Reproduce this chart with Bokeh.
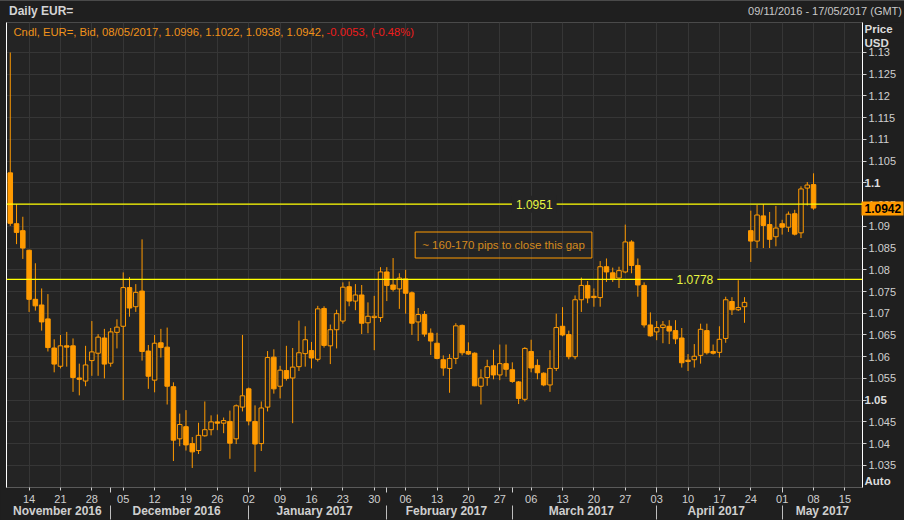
import json
import pandas as pd
from bokeh.plotting import figure
from bokeh.layouts import column
from bokeh.models import (ColumnDataSource, Range1d, LinearAxis, FixedTicker,
                          CustomJSTickFormatter, Span, Label, Div)
from bokeh.embed import file_html
from bokeh.resources import INLINE

# ---------------- data ----------------
first_day = "2016-11-09"
open_ = [1.1023, 1.0906, 1.0890, 1.0845, 1.0732, 1.0719, 1.0687, 1.0620, 1.0578, 1.0625,
         1.0625, 1.0551, 1.0544, 1.0591, 1.0608, 1.0643,
         1.0585, 1.0656, 1.0670, 1.0759, 1.0715, 1.0751, 1.0613, 1.0546, 1.0632, 1.0622,
         1.0531, 1.0411, 1.0439, 1.0400, 1.0384, 1.0418, 1.0432, 1.0450, 1.0447, 1.0451,
         1.0411, 1.0484,
         1.0526, 1.0451, 1.0400, 1.0484, 1.0599, 1.0532, 1.0568, 1.0551, 1.0577, 1.0607,
         1.0614, 1.0594, 1.0711, 1.0625, 1.0662, 1.0682, 1.0761, 1.0728, 1.0742, 1.0678,
         1.0690, 1.0690,
         1.0795, 1.0765, 1.0756, 1.0779, 1.0747, 1.0680, 1.0697, 1.0654, 1.0631, 1.0593,
         1.0573, 1.0596, 1.0672, 1.0612, 1.0608, 1.0532, 1.0552, 1.0579, 1.0558, 1.0584,
         1.0570, 1.0542, 1.0502, 1.0612, 1.0580, 1.0562, 1.0535, 1.0573, 1.0670, 1.0651,
         1.0600, 1.0731, 1.0764, 1.0739, 1.0736, 1.0807, 1.0793, 1.0781, 1.0795, 1.0864,
         1.0810, 1.0764, 1.0673,
         1.0657, 1.0667, 1.0670, 1.0660, 1.0643, 1.0592, 1.0593, 1.0603, 1.0660, 1.0612,
         1.0610, 1.0642, 1.0727, 1.0708, 1.0715, 1.0890, 1.0866, 1.0924, 1.0904, 1.0876,
         1.0906, 1.0898, 1.0929, 1.0885, 1.0988, 1.0996]
high = [1.1300, 1.0951, 1.0922, 1.0846, 1.0815, 1.0757, 1.0744, 1.0640, 1.0650, 1.0657,
        1.0642, 1.0584, 1.0625, 1.0682, 1.0652, 1.0664,
        1.0666, 1.0686, 1.0794, 1.0783, 1.0767, 1.0870, 1.0627, 1.0650, 1.0664, 1.0667,
        1.0541, 1.0469, 1.0477, 1.0415, 1.0448, 1.0497, 1.0465, 1.0467, 1.0460, 1.0476,
        1.0490, 1.0650,
        1.0529, 1.0488, 1.0497, 1.0613, 1.0617, 1.0579, 1.0625, 1.0620, 1.0683, 1.0670,
        1.0634, 1.0717, 1.0716, 1.0674, 1.0708, 1.0771, 1.0773, 1.0767, 1.0765, 1.0725,
        1.0740, 1.0806,
        1.0806, 1.0827, 1.0792, 1.0800, 1.0750, 1.0712, 1.0705, 1.0665, 1.0655, 1.0603,
        1.0606, 1.0677, 1.0674, 1.0633, 1.0610, 1.0571, 1.0593, 1.0616, 1.0628, 1.0628,
        1.0587, 1.0544, 1.0622, 1.0639, 1.0594, 1.0564, 1.0615, 1.0699, 1.0714, 1.0660,
        1.0741, 1.0782, 1.0774, 1.0757, 1.0820, 1.0826, 1.0805, 1.0807, 1.0904, 1.0868,
        1.0826, 1.0771, 1.0702,
        1.0682, 1.0682, 1.0684, 1.0684, 1.0666, 1.0606, 1.0629, 1.0676, 1.0676, 1.0628,
        1.0670, 1.0738, 1.0737, 1.0776, 1.0737, 1.0936, 1.0949, 1.0951, 1.0933, 1.0947,
        1.0915, 1.0934, 1.0938, 1.0992, 1.1002, 1.1022]
low = [1.0901, 1.0859, 1.0825, 1.0703, 1.0706, 1.0660, 1.0612, 1.0564, 1.0573, 1.0577,
       1.0519, 1.0511, 1.0532, 1.0556, 1.0556, 1.0550,
       1.0577, 1.0619, 1.0500, 1.0692, 1.0703, 1.0591, 1.0526, 1.0518, 1.0598, 1.0490,
       1.0360, 1.0394, 1.0384, 1.0344, 1.0376, 1.0416, 1.0419, 1.0431, 1.0424, 1.0365,
       1.0399, 1.0474,
       1.0442, 1.0335, 1.0383, 1.0474, 1.0515, 1.0504, 1.0545, 1.0447, 1.0567, 1.0577,
       1.0573, 1.0589, 1.0621, 1.0583, 1.0619, 1.0676, 1.0716, 1.0707, 1.0652, 1.0654,
       1.0615, 1.0680,
       1.0728, 1.0750, 1.0710, 1.0699, 1.0650, 1.0636, 1.0646, 1.0604, 1.0594, 1.0556,
       1.0517, 1.0583, 1.0603, 1.0604, 1.0532, 1.0490, 1.0533, 1.0548, 1.0546, 1.0554,
       1.0540, 1.0491, 1.0497, 1.0564, 1.0548, 1.0532, 1.0519, 1.0567, 1.0647, 1.0594,
       1.0594, 1.0703, 1.0723, 1.0715, 1.0715, 1.0772, 1.0772, 1.0758, 1.0792, 1.0792,
       1.0738, 1.0667, 1.0646,
       1.0638, 1.0631, 1.0629, 1.0629, 1.0575, 1.0567, 1.0575, 1.0584, 1.0605, 1.0605,
       1.0598, 1.0632, 1.0696, 1.0705, 1.0678, 1.0818, 1.0850, 1.0850, 1.0850, 1.0854,
       1.0881, 1.0887, 1.0879, 1.0873, 1.0948, 1.0938]
close = [1.0907, 1.0886, 1.0850, 1.0732, 1.0717, 1.0680, 1.0621, 1.0583, 1.0625, 1.0622,
         1.0552, 1.0548, 1.0581, 1.0611, 1.0645, 1.0583,
         1.0657, 1.0668, 1.0759, 1.0712, 1.0748, 1.0612, 1.0555, 1.0631, 1.0621, 1.0532,
         1.0408, 1.0444, 1.0397, 1.0381, 1.0419, 1.0432, 1.0450, 1.0447, 1.0453, 1.0401,
         1.0487, 1.0510,
         1.0452, 1.0399, 1.0482, 1.0598, 1.0526, 1.0569, 1.0550, 1.0576, 1.0609, 1.0639,
         1.0597, 1.0710, 1.0626, 1.0662, 1.0699, 1.0760, 1.0728, 1.0742, 1.0677, 1.0693,
         1.0693, 1.0795,
         1.0764, 1.0755, 1.0781, 1.0746, 1.0677, 1.0697, 1.0652, 1.0636, 1.0596, 1.0574,
         1.0596, 1.0671, 1.0609, 1.0606, 1.0533, 1.0551, 1.0577, 1.0558, 1.0584, 1.0571,
         1.0543, 1.0504, 1.0619, 1.0574, 1.0563, 1.0535, 1.0573, 1.0667, 1.0650, 1.0600,
         1.0731, 1.0764, 1.0735, 1.0736, 1.0807, 1.0795, 1.0779, 1.0798, 1.0864, 1.0810,
         1.0765, 1.0673, 1.0648,
         1.0667, 1.0673, 1.0659, 1.0641, 1.0586, 1.0589, 1.0601, 1.0663, 1.0609, 1.0608,
         1.0640, 1.0731, 1.0708, 1.0713, 1.0725, 1.0866, 1.0926, 1.0902, 1.0870, 1.0896,
         1.0898, 1.0928, 1.0882, 1.0986, 1.0995, 1.0942]
level_upper = 1.0951
level_lower = 1.0778
note_text = "~ 160-170 pips to close this gap"
price_ticks = [1.035, 1.04, 1.045, 1.05, 1.055, 1.06, 1.065, 1.07, 1.075, 1.08,
               1.085, 1.09, 1.095, 1.1, 1.105, 1.11, 1.115, 1.12, 1.125, 1.13]
bold_ticks = [1.05, 1.1]
range_end_day = "2017-05-17"

# ---------------- styling ----------------
FONT = "Liberation Sans"
ORANGE = "#ff9a00"
BG = "#242424"
BORDER = "#1f1f1f"
GRID = "#363636"
TXT = "#cfcfcf"
YELLOW = "#ffff00"
W = 904
A_WIDTH = 38      # measured width of the main price axis panel

n = len(close)
dates = pd.bdate_range(first_day, periods=n)
idx = list(range(n))
x_start, x_end = -0.6, 135.8
y_start, y_end = 1.0299, 1.1369

p = figure(width=W, height=498, x_range=Range1d(x_start, x_end),
           y_range=Range1d(y_start, y_end), output_backend="svg",
           toolbar_location=None, y_axis_location="right",
           min_border_left=6, min_border_right=42, min_border_top=0,
           min_border_bottom=0)
p.background_fill_color = BG
p.border_fill_color = BORDER
p.outline_line_color = "#4a4a4a"

# ---------------- ticks ----------------
all_days = pd.bdate_range(first_day, range_end_day)
mondays = [i for i, d in enumerate(all_days) if d.weekday() == 0 and i <= x_end]
day_labels = [all_days[i].strftime("%d") for i in mondays]
month_starts = [i for i in range(1, n) if dates[i].month != dates[i - 1].month]
seg_starts = [0] + month_starts
seg_ends = [s - 1 for s in month_starts] + [x_end]
month_centers = [(a + b) / 2 for a, b in zip(seg_starts, seg_ends)]
month_names = [dates[s].strftime("%B %Y") for s in seg_starts]


def list_fmt(ticks, labels):
    return CustomJSTickFormatter(code=(
        f"const t = {json.dumps(ticks)}; const l = {json.dumps(labels)};"
        "for (let i = 0; i < t.length; i++) { if (Math.abs(t[i] - tick) < 1e-7) return l[i]; }"
        "return '';"))


price_fmt = CustomJSTickFormatter(code=(
    f"const b = {json.dumps(bold_ticks)};"
    "for (const v of b) { if (Math.abs(v - tick) < 1e-9) return ''; }"
    "return String(tick);"))

day_ticker = FixedTicker(ticks=mondays, minor_ticks=month_starts)
price_ticker = FixedTicker(ticks=price_ticks, minor_ticks=[])


def plain_axis(ax, color=None):
    ax.axis_line_color = color
    ax.major_tick_out = 0
    ax.major_tick_in = 0
    ax.minor_tick_out = 0
    ax.minor_tick_in = 0


xa = p.xaxis[0]
xa.ticker = day_ticker
xa.formatter = list_fmt(mondays, day_labels)
xa.axis_line_color = "#5a5a5a"
xa.major_tick_out = 3
xa.major_tick_in = 0
xa.minor_tick_out = 5
xa.minor_tick_in = 0
xa.major_tick_line_color = TXT
xa.minor_tick_line_color = TXT
xa.major_label_standoff = 2
xa.major_label_text_font = FONT
xa.major_label_text_font_size = "11px"
xa.major_label_text_color = TXT

ma = LinearAxis(ticker=FixedTicker(ticks=month_centers, minor_ticks=month_starts),
                formatter=list_fmt(month_centers, month_names))
plain_axis(ma)
ma.minor_tick_out = 14
ma.minor_tick_line_color = "#bdbdbd"
ma.major_label_standoff = -16
ma.major_label_text_font = FONT
ma.major_label_text_font_size = "12px"
ma.major_label_text_font_style = "bold"
ma.major_label_text_color = TXT
p.add_layout(ma, "below")

# right axis A: regular price labels
ya = p.yaxis[0]
ya.ticker = price_ticker
ya.formatter = price_fmt
ya.axis_line_color = "#ffffff"
ya.major_tick_out = 4
ya.major_tick_in = 0
ya.minor_tick_out = 0
ya.minor_tick_in = 0
ya.major_tick_line_color = TXT
ya.major_label_standoff = 2
ya.major_label_text_font = FONT
ya.major_label_text_font_size = "11px"
ya.major_label_text_color = TXT

# right axis C: last price tag (tick drawn as a thick orange bar)
C_OUT = 4
yc = LinearAxis(ticker=FixedTicker(ticks=[close[-1]], minor_ticks=[]),
                formatter=list_fmt([close[-1]], [f"{close[-1]:.4f}"]))
plain_axis(yc)
yc.major_tick_in = A_WIDTH
yc.major_tick_out = C_OUT
yc.major_tick_line_color = ORANGE
yc.major_tick_line_width = 14
yc.major_label_standoff = -(A_WIDTH + C_OUT) + 3
yc.major_label_text_font = FONT
yc.major_label_text_font_size = "12px"
yc.major_label_text_font_style = "bold"
yc.major_label_text_color = "#000000"
p.add_layout(yc, "right")
C_WIDTH = 7

# right axis B: bold labels (round levels, unit header, scale mode)
price_pos = y_end - 0.0013
usd_pos = y_end - 0.0048
auto_pos = y_start + 0.0016
b_ticks = [auto_pos] + bold_ticks + [usd_pos, price_pos]
b_labels = ["Auto"] + [str(b) for b in bold_ticks] + ["USD", "Price"]
yb = LinearAxis(ticker=FixedTicker(ticks=b_ticks, minor_ticks=[]),
                formatter=list_fmt(b_ticks, b_labels))
plain_axis(yb)
yb.major_label_standoff = 5 - (A_WIDTH + C_WIDTH)
yb.major_label_text_font = FONT
yb.major_label_text_font_size = "11.5px"
yb.major_label_text_font_style = "bold"
yb.major_label_text_color = "#dcdcdc"
p.add_layout(yb, "right")

la = LinearAxis(ticker=FixedTicker(ticks=[], minor_ticks=[]))
plain_axis(la, "#ffffff")
la.major_label_standoff = 0
la.major_label_text_font_size = "0px"
p.add_layout(la, "left")

p.xgrid.ticker = FixedTicker(ticks=mondays, minor_ticks=[])
p.ygrid.ticker = price_ticker
p.xgrid.grid_line_color = GRID
p.ygrid.grid_line_color = GRID

# ---------------- candles ----------------
up = [i for i in idx if close[i] >= open_[i]]
dn = [i for i in idx if close[i] < open_[i]]


def src(ids):
    return ColumnDataSource(dict(
        x=ids,
        hi=[high[i] for i in ids], lo=[low[i] for i in ids],
        top=[max(open_[i], close[i]) for i in ids],
        bot=[min(open_[i], close[i]) for i in ids]))


p.segment(x0="x", y0="hi", x1="x", y1="lo", source=src(idx),
          line_color=ORANGE, line_width=1)
p.vbar(x="x", width=0.72, top="top", bottom="bot", source=src(dn),
       fill_color=ORANGE, line_color=ORANGE, line_width=1)
p.vbar(x="x", width=0.72, top="top", bottom="bot", source=src(up),
       fill_color=BG, line_color=ORANGE, line_width=1)

# ---------------- horizontal levels ----------------
for lvl, lx in ((level_upper, 83.5), (level_lower, 109.1)):
    p.add_layout(Span(location=lvl, dimension="width", line_color=YELLOW,
                      line_width=1.3))
    p.add_layout(Label(x=lx, y=lvl, text=f"{lvl:.4f}", text_align="center",
                       text_baseline="middle", text_font=FONT,
                       text_font_size="12px", text_color="#e6f542",
                       background_fill_color=BG, padding=4))

p.add_layout(Label(x=78.6, y=1.0857, text=note_text, text_align="center",
                   text_baseline="middle", text_font=FONT, text_font_size="11.5px",
                   text_color="#d48a1e", border_line_color=ORANGE,
                   border_line_width=1, padding=7))

# ---------------- legend line ----------------
chg = close[-1] - close[-2]
pct = chg / close[-2] * 100
legend_main = (f"Cndl, EUR=, Bid, {dates[-1]:%d/%m/%Y}, {open_[-1]:.4f}, "
               f"{high[-1]:.4f}, {low[-1]:.4f}, {close[-1]:.4f}, ")
legend_chg = f"{chg:.4f}, ({pct:.2f}%)"
p.add_layout(Label(x=x_start, y=y_end, x_offset=7, y_offset=-9, text=legend_main,
                   text_baseline="middle", text_font=FONT, text_font_size="11.25px",
                   text_color="#f0921a"))
p.add_layout(Label(x=x_start, y=y_end, x_offset=7 + 313, y_offset=-9, text=legend_chg,
                   text_baseline="middle", text_font=FONT, text_font_size="11.25px",
                   text_color="#ee1c1c"))

# ---------------- header ----------------
header_right = f"{dates[0]:%d/%m/%Y} - {pd.Timestamp(range_end_day):%d/%m/%Y} (GMT)"
header = Div(
    text=(
        f"<div style=\"display:flex;justify-content:space-between;align-items:center;"
        f"box-sizing:border-box;width:{W}px;height:21px;padding:0 2px 0 9px;"
        "font-family:'Liberation Sans';\">"
        "<span style=\"font-weight:bold;font-size:12px;color:#d4d4d4;\">Daily EUR=</span>"
        f"<span style=\"font-size:11px;color:#c8c8c8;\">{header_right}</span></div>"),
    width=W, height=22, margin=0,
    styles={"background-color": BORDER, "border-top": "1px solid #4a4a4a"})

layout = column(header, p, spacing=0, margin=0)

html = file_html(layout, INLINE, title="Daily EUR=")
html = html.replace("<head>", "<head><style>body{background:#1f1f1f;}</style>", 1)
open("out.html", "w").write(html)
